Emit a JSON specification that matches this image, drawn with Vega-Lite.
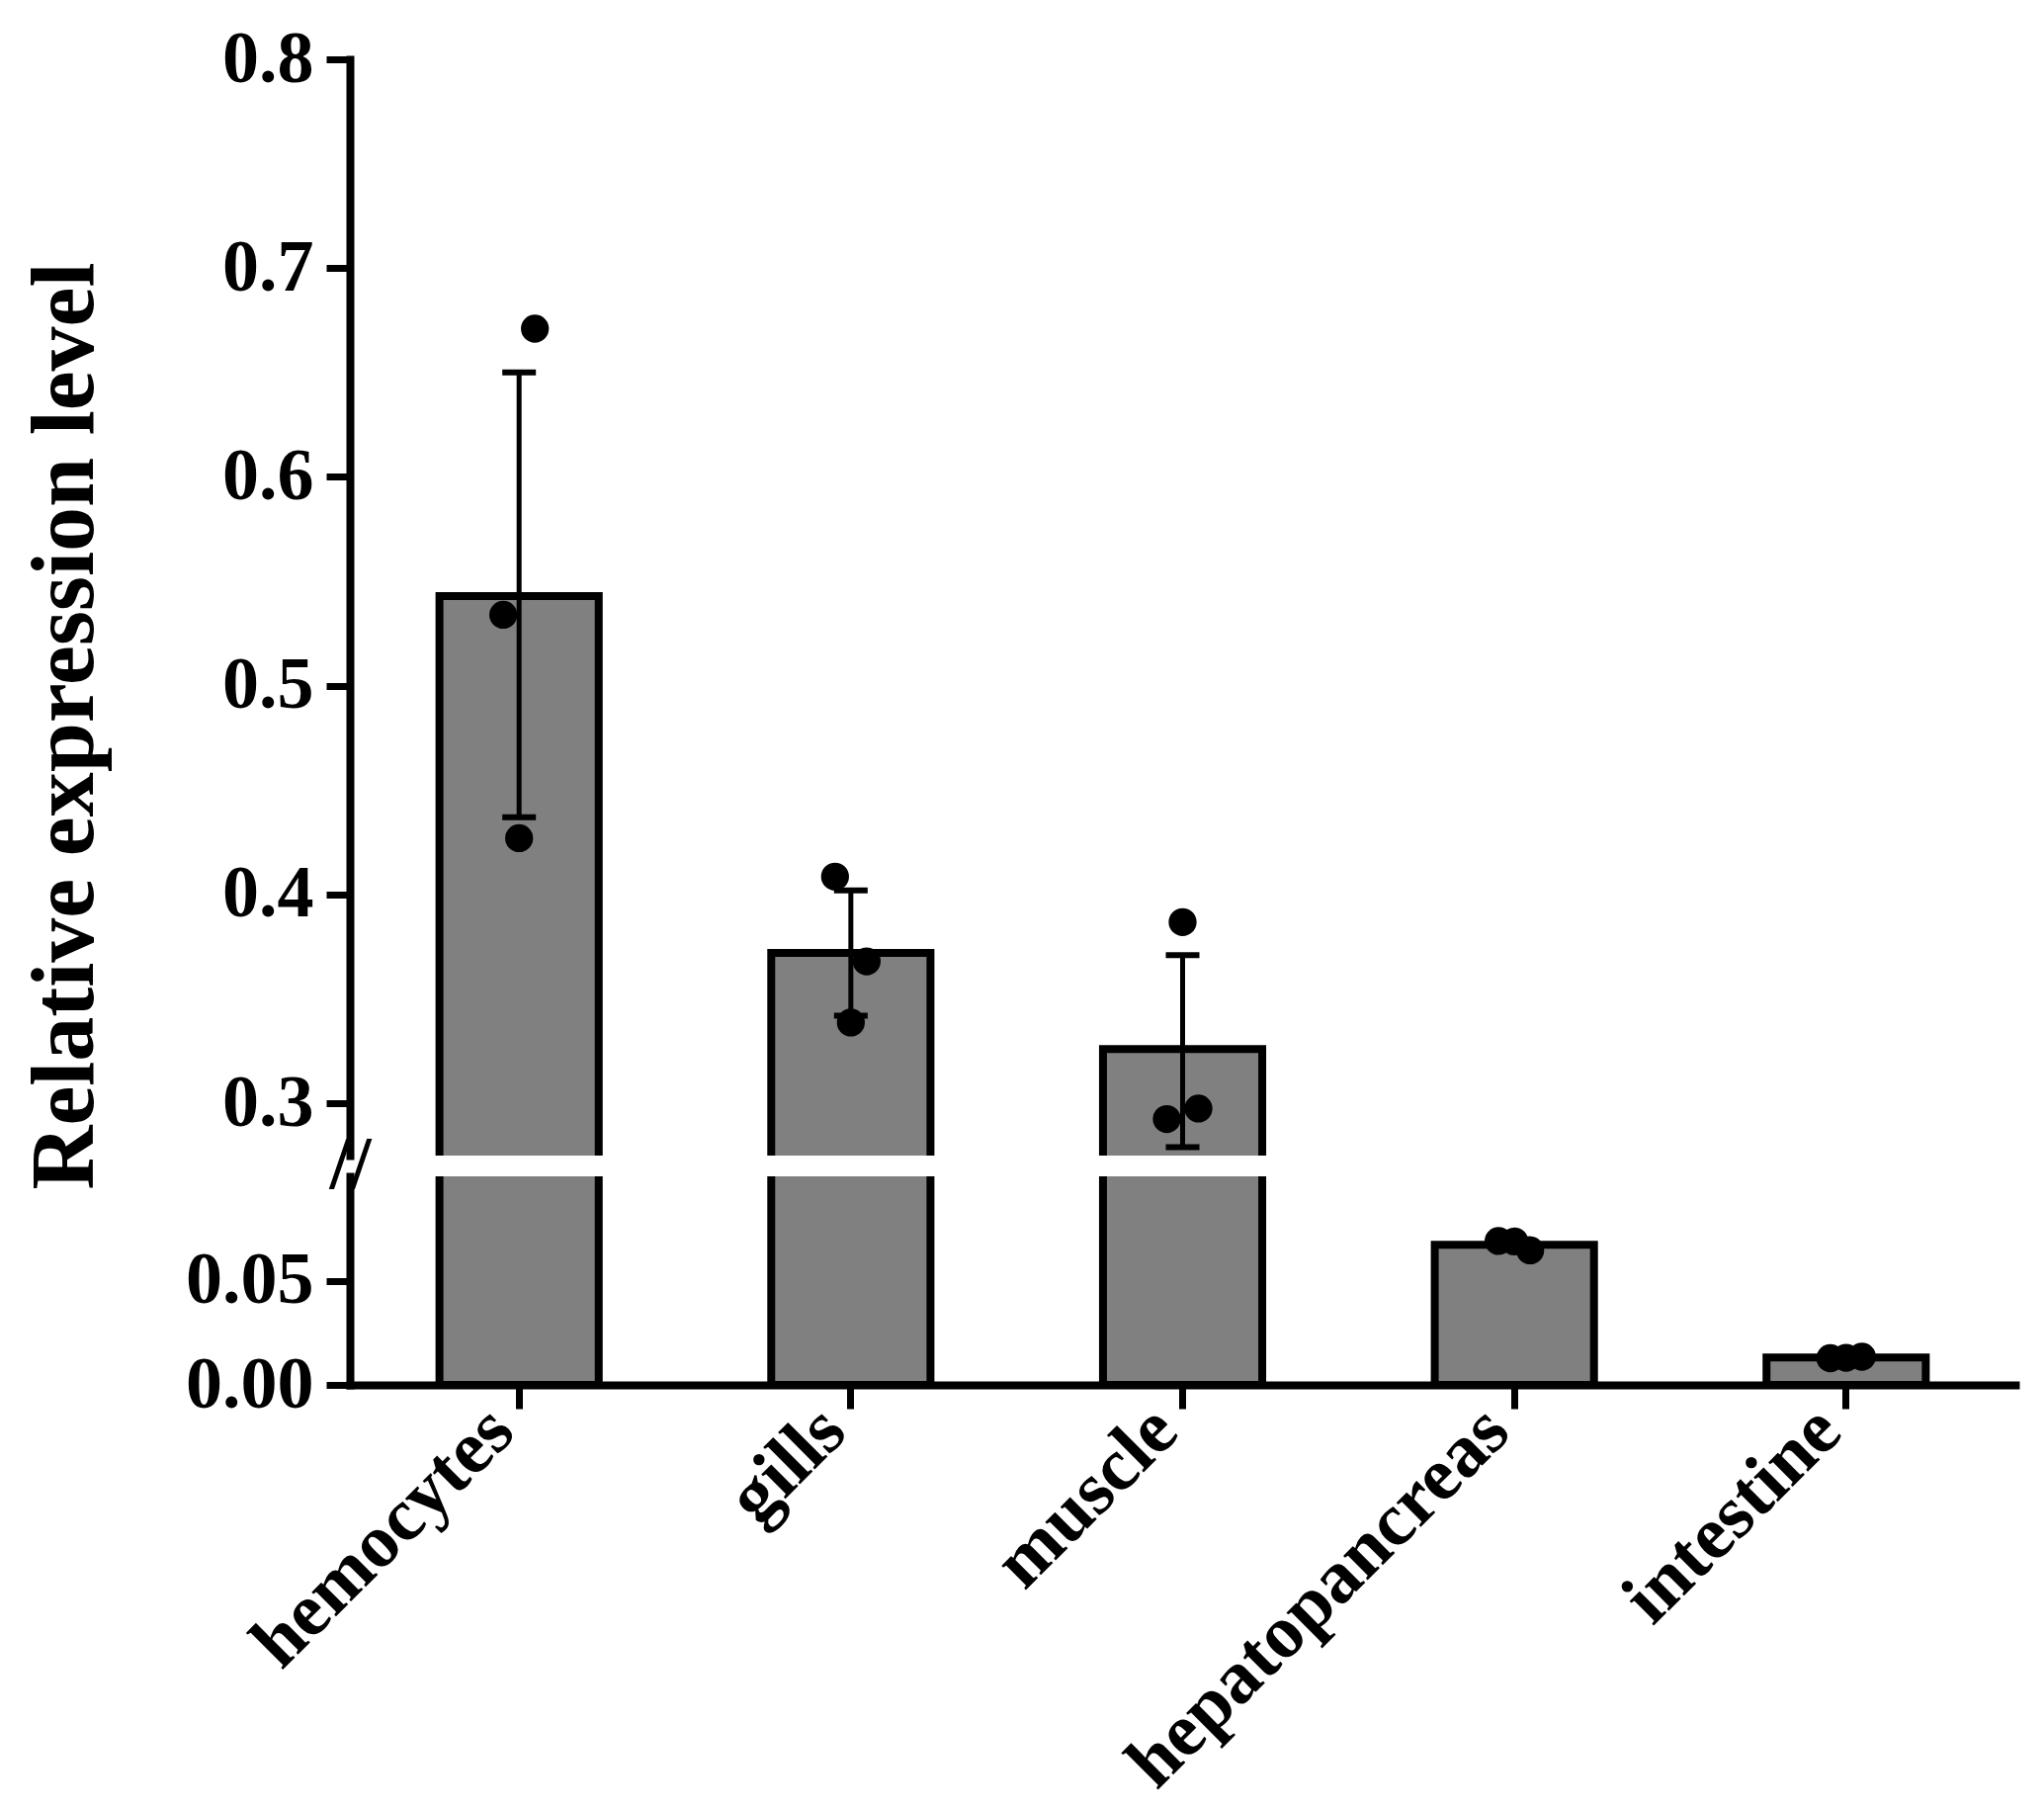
{
  "$schema": "https://vega.github.io/schema/vega-lite/v6.json",
  "background": "white",
  "padding": {"left": 21, "top": 23, "right": 20, "bottom": 5},
  "bounds": "flush",
  "datasets": {
    "bars": [
      {"tissue": "hemocytes", "mean": 0.543, "lo": 0.437, "hi": 0.650},
      {"tissue": "gills", "mean": 0.372, "lo": 0.342, "hi": 0.402},
      {"tissue": "muscle", "mean": 0.326, "lo": 0.279, "hi": 0.371},
      {"tissue": "hepatopancreas", "mean": 0.0672, "lo": 0.0648, "hi": 0.0698},
      {"tissue": "intestine", "mean": 0.0131, "lo": 0.0127, "hi": 0.0135}
    ],
    "points": [
      {"tissue": "hemocytes", "rep": 1, "value": 0.534},
      {"tissue": "hemocytes", "rep": 2, "value": 0.427},
      {"tissue": "hemocytes", "rep": 3, "value": 0.671},
      {"tissue": "gills", "rep": 1, "value": 0.4086},
      {"tissue": "gills", "rep": 2, "value": 0.3387},
      {"tissue": "gills", "rep": 3, "value": 0.368},
      {"tissue": "muscle", "rep": 1, "value": 0.2925},
      {"tissue": "muscle", "rep": 2, "value": 0.3868},
      {"tissue": "muscle", "rep": 3, "value": 0.2975},
      {"tissue": "hepatopancreas", "rep": 1, "value": 0.0690},
      {"tissue": "hepatopancreas", "rep": 2, "value": 0.0688},
      {"tissue": "hepatopancreas", "rep": 3, "value": 0.0645},
      {"tissue": "intestine", "rep": 1, "value": 0.0128},
      {"tissue": "intestine", "rep": 2, "value": 0.0130},
      {"tissue": "intestine", "rep": 3, "value": 0.0135}
    ]
  },
  "spacing": 21,
  "vconcat": [
    {
      "width": 1685,
      "height": 1109,
      "encoding": {
        "x": {
          "field": "tissue",
          "type": "nominal",
          "sort": ["hemocytes", "gills", "muscle", "hepatopancreas", "intestine"],
          "scale": {"paddingInner": 0.52, "paddingOuter": 0.27},
          "axis": null
        }
      },
      "layer": [
        {
          "data": {"name": "bars"},
          "mark": {"type": "bar", "clip": true, "fill": "#808080", "stroke": "black", "strokeWidth": 8},
          "encoding": {
            "y": {
              "field": "mean",
              "type": "quantitative",
              "scale": {"domain": [0.275, 0.8], "nice": false, "zero": false},
              "axis": {
                "values": [0.3, 0.4, 0.5, 0.6, 0.7, 0.8],
                "format": ".1f",
                "title": "Relative expression level",
                "titleX": -242,
                "titleY": 674,
                "titleAngle": 270,
                "titleBaseline": "bottom",
                "titleAlign": "center"
              }
            },
            "y2": {"datum": 0}
          }
        },
        {
          "data": {"name": "bars"},
          "mark": {"type": "rule", "clip": true, "color": "black", "opacity": 1, "strokeWidth": 5},
          "encoding": {
            "y": {"field": "lo", "type": "quantitative"},
            "y2": {"field": "hi"}
          }
        },
        {
          "data": {"name": "bars"},
          "mark": {"type": "tick", "clip": true, "color": "black", "opacity": 1, "size": 34, "thickness": 6},
          "encoding": {"y": {"field": "lo", "type": "quantitative"}}
        },
        {
          "data": {"name": "bars"},
          "mark": {"type": "tick", "clip": true, "color": "black", "opacity": 1, "size": 34, "thickness": 6},
          "encoding": {"y": {"field": "hi", "type": "quantitative"}}
        },
        {
          "data": {"name": "points"},
          "transform": [{"filter": "datum.rep == 1"}],
          "mark": {"type": "circle", "clip": true, "color": "black", "opacity": 1, "size": 800, "xOffset": -16},
          "encoding": {"y": {"field": "value", "type": "quantitative"}}
        },
        {
          "data": {"name": "points"},
          "transform": [{"filter": "datum.rep == 2"}],
          "mark": {"type": "circle", "clip": true, "color": "black", "opacity": 1, "size": 800, "xOffset": 0},
          "encoding": {"y": {"field": "value", "type": "quantitative"}}
        },
        {
          "data": {"name": "points"},
          "transform": [{"filter": "datum.rep == 3"}],
          "mark": {"type": "circle", "clip": true, "color": "black", "opacity": 1, "size": 800, "xOffset": 16},
          "encoding": {"y": {"field": "value", "type": "quantitative"}}
        }
      ]
    },
    {
      "width": 1685,
      "height": 211,
      "encoding": {
        "x": {
          "field": "tissue",
          "type": "nominal",
          "sort": ["hemocytes", "gills", "muscle", "hepatopancreas", "intestine"],
          "scale": {"paddingInner": 0.52, "paddingOuter": 0.27},
          "axis": {
            "title": null,
            "labelAngle": -45,
            "labelAlign": "right",
            "labelBaseline": "middle",
            "labelPadding": 10,
            "labelOffset": -18,
            "labelFontSize": 76,
            "labelLimit": 0
          }
        }
      },
      "layer": [
        {
          "data": {"name": "bars"},
          "mark": {"type": "bar", "clip": true, "fill": "#808080", "stroke": "black", "strokeWidth": 8},
          "encoding": {
            "y": {
              "field": "mean",
              "type": "quantitative",
              "scale": {"domain": [0, 0.1], "nice": false, "zero": false},
              "axis": {
                "values": [0, 0.05, 0.1],
                "title": null,
                "labelExpr": "datum.value > 0.09 ? '//' : format(datum.value, '.2f')",
                "tickOpacity": {"condition": {"test": "datum.value > 0.09", "value": 0}, "value": 1},
                "labelAlign": {"condition": {"test": "datum.value > 0.09", "value": "center"}, "value": "right"},
                "labelPadding": {"condition": {"test": "datum.value > 0.09", "value": -24}, "value": 13},
                "labelFontSize": {"condition": {"test": "datum.value > 0.09", "value": 76}, "value": 74},
                "labelOffset": {"condition": {"test": "datum.value > 0.09", "value": -12}, "value": 0}
              }
            },
            "y2": {"datum": 0}
          }
        },
        {
          "data": {"name": "bars"},
          "mark": {"type": "rule", "clip": true, "color": "black", "opacity": 1, "strokeWidth": 5},
          "encoding": {
            "y": {"field": "lo", "type": "quantitative"},
            "y2": {"field": "hi"}
          }
        },
        {
          "data": {"name": "bars"},
          "mark": {"type": "tick", "clip": true, "color": "black", "opacity": 1, "size": 34, "thickness": 6},
          "encoding": {"y": {"field": "lo", "type": "quantitative"}}
        },
        {
          "data": {"name": "bars"},
          "mark": {"type": "tick", "clip": true, "color": "black", "opacity": 1, "size": 34, "thickness": 6},
          "encoding": {"y": {"field": "hi", "type": "quantitative"}}
        },
        {
          "data": {"name": "points"},
          "transform": [{"filter": "datum.rep == 1"}],
          "mark": {"type": "circle", "clip": true, "color": "black", "opacity": 1, "size": 800, "xOffset": -16},
          "encoding": {"y": {"field": "value", "type": "quantitative"}}
        },
        {
          "data": {"name": "points"},
          "transform": [{"filter": "datum.rep == 2"}],
          "mark": {"type": "circle", "clip": true, "color": "black", "opacity": 1, "size": 800, "xOffset": 0},
          "encoding": {"y": {"field": "value", "type": "quantitative"}}
        },
        {
          "data": {"name": "points"},
          "transform": [{"filter": "datum.rep == 3"}],
          "mark": {"type": "circle", "clip": true, "color": "black", "opacity": 1, "size": 800, "xOffset": 16},
          "encoding": {"y": {"field": "value", "type": "quantitative"}}
        }
      ]
    }
  ],
  "config": {
    "view": {"stroke": null},
    "font": "Liberation Serif",
    "axis": {
      "grid": false,
      "domainColor": "black",
      "domainWidth": 8,
      "domainCap": "square",
      "tickColor": "black",
      "tickWidth": 7,
      "tickSize": 24,
      "labelColor": "black",
      "labelFont": "Liberation Serif",
      "labelFontWeight": "bold",
      "labelFontSize": 74,
      "labelPadding": 13,
      "labelOverlap": false,
      "labelFlush": false,
      "titleColor": "black",
      "titleFont": "Liberation Serif",
      "titleFontWeight": "bold",
      "titleFontSize": 90
    }
  }
}
